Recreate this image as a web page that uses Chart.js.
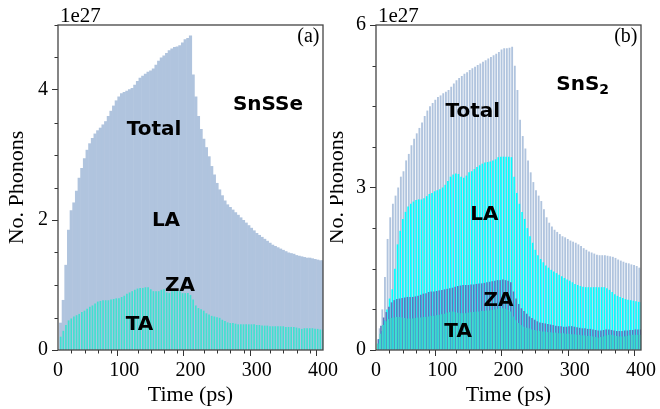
<!DOCTYPE html>
<html>
<head>
<meta charset="utf-8">
<script src="https://cdn.jsdelivr.net/npm/chart.js@4.4.1/dist/chart.umd.min.js"></script>
<style>
html, body { margin: 0; padding: 0; background: #fff; }
#wrap { position: relative; width: 660px; height: 409px; overflow: hidden; }
canvas { position: absolute; top: 0; }
</style>
</head>
<body>
<div id="wrap">
  <canvas id="chart_snsse" width="345" height="409" style="left:0px"></canvas>
  <canvas id="chart_sns2" width="330" height="409" style="left:330px"></canvas>
</div>
<script>
// time steps (ps)
var times = [
  4, 8, 12, 16, 20, 24, 28, 32, 36, 40,
  44, 48, 52, 56, 60, 64, 68, 72, 76, 80,
  84, 88, 92, 96, 100, 104, 108, 112, 116, 120,
  124, 128, 132, 136, 140, 144, 148, 152, 156, 160,
  164, 168, 172, 176, 180, 184, 188, 192, 196, 200,
  204, 208, 212, 216, 220, 224, 228, 232, 236, 240,
  244, 248, 252, 256, 260, 264, 268, 272, 276, 280,
  284, 288, 292, 296, 300, 304, 308, 312, 316, 320,
  324, 328, 332, 336, 340, 344, 348, 352, 356, 360,
  364, 368, 372, 376, 380, 384, 388, 392, 396, 400
];

// (a) SnSSe, units of 1e27
var snsseTotal = [
  0.42, 0.77, 1.31, 1.85, 2.15, 2.27, 2.45, 2.65, 2.80, 2.95,
  3.08, 3.18, 3.26, 3.33, 3.38, 3.42, 3.47, 3.52, 3.60, 3.68,
  3.76, 3.84, 3.90, 3.95, 3.97, 3.99, 4.01, 4.03, 4.08, 4.14,
  4.19, 4.22, 4.25, 4.28, 4.30, 4.33, 4.39, 4.45, 4.50, 4.53,
  4.57, 4.61, 4.64, 4.66, 4.67, 4.69, 4.73, 4.78, 4.80, 4.84,
  4.24, 3.90, 3.60, 3.40, 3.25, 3.12, 2.98, 2.83, 2.70, 2.57,
  2.47, 2.38, 2.30, 2.24, 2.20, 2.16, 2.12, 2.08, 2.04, 2.00,
  1.96, 1.92, 1.88, 1.84, 1.80, 1.77, 1.74, 1.71, 1.68, 1.65,
  1.62, 1.60, 1.58, 1.56, 1.54, 1.52, 1.50, 1.49, 1.48, 1.46,
  1.45, 1.44, 1.43, 1.42, 1.42, 1.41, 1.40, 1.39, 1.38, 1.38
];
var snsseTA = [
  0.20, 0.29, 0.38, 0.45, 0.48, 0.51, 0.53, 0.55, 0.58, 0.60,
  0.63, 0.66, 0.68, 0.71, 0.74, 0.75, 0.76, 0.76, 0.76, 0.77,
  0.78, 0.79, 0.79, 0.81, 0.83, 0.86, 0.88, 0.90, 0.92, 0.94,
  0.95, 0.95, 0.96, 0.96, 0.93, 0.90, 0.90, 0.90, 0.92, 0.93,
  0.88, 0.87, 0.90, 0.92, 0.93, 0.90, 0.87, 0.87, 0.87, 0.84,
  0.77, 0.68, 0.64, 0.62, 0.60, 0.56, 0.54, 0.52, 0.51, 0.50,
  0.49, 0.46, 0.44, 0.42, 0.41, 0.41, 0.40, 0.39, 0.39, 0.39,
  0.39, 0.39, 0.39, 0.39, 0.38, 0.38, 0.37, 0.37, 0.37, 0.36,
  0.36, 0.36, 0.36, 0.36, 0.36, 0.35, 0.35, 0.35, 0.35, 0.34,
  0.33, 0.32, 0.33, 0.33, 0.33, 0.33, 0.32, 0.32, 0.31, 0.31
];

// (b) SnS2, units of 1e27
var sns2Total = [
  0.40, 0.75, 1.35, 2.05, 2.45, 2.70, 2.85, 3.00, 3.20, 3.30,
  3.50, 3.62, 3.78, 3.90, 4.00, 4.10, 4.20, 4.32, 4.42, 4.50,
  4.56, 4.62, 4.67, 4.70, 4.74, 4.77, 4.80, 4.86, 4.92, 4.98,
  5.02, 5.06, 5.10, 5.13, 5.17, 5.20, 5.23, 5.26, 5.29, 5.32,
  5.35, 5.38, 5.41, 5.44, 5.47, 5.50, 5.55, 5.57, 5.57, 5.58,
  5.60, 5.25, 4.80, 4.25, 3.95, 3.72, 3.50, 3.28, 3.10, 2.95,
  2.85, 2.75, 2.60, 2.45, 2.35, 2.28, 2.22, 2.18, 2.14, 2.10,
  2.08, 2.05, 2.02, 2.00, 1.98, 1.95, 1.92, 1.88, 1.85, 1.82,
  1.80, 1.78, 1.76, 1.75, 1.75, 1.75, 1.74, 1.73, 1.72, 1.70,
  1.67, 1.65, 1.63, 1.61, 1.60, 1.58, 1.57, 1.55, 1.52, 1.50
];
var sns2LA = [
  0.20, 0.35, 0.55, 0.75, 0.95, 1.12, 1.50, 1.95, 2.20, 2.42,
  2.55, 2.65, 2.70, 2.74, 2.77, 2.78, 2.78, 2.80, 2.84, 2.88,
  2.90, 2.93, 2.95, 2.97, 3.00, 3.05, 3.12, 3.20, 3.24, 3.26,
  3.25, 3.20, 3.18, 3.22, 3.28, 3.30, 3.34, 3.38, 3.41, 3.44,
  3.46, 3.47, 3.48, 3.50, 3.52, 3.56, 3.57, 3.57, 3.57, 3.57,
  3.56, 3.20, 2.90, 2.70, 2.55, 2.42, 2.25, 2.10, 1.98, 1.85,
  1.75, 1.68, 1.62, 1.56, 1.52, 1.48, 1.45, 1.42, 1.39, 1.36,
  1.33, 1.30, 1.28, 1.25, 1.22, 1.20, 1.18, 1.17, 1.16, 1.16,
  1.16, 1.16, 1.16, 1.16, 1.16, 1.16, 1.14, 1.11, 1.07, 1.03,
  1.00, 0.98, 0.96, 0.94, 0.93, 0.92, 0.91, 0.90, 0.89, 0.88
];
var sns2ZA = [
  0.20, 0.45, 0.60, 0.70, 0.80, 0.88, 0.92, 0.94, 0.95, 0.96,
  0.97, 0.98, 0.98, 0.98, 0.99, 1.00, 1.02, 1.04, 1.05, 1.07,
  1.08, 1.08, 1.09, 1.10, 1.11, 1.12, 1.13, 1.14, 1.15, 1.17,
  1.18, 1.19, 1.20, 1.20, 1.20, 1.21, 1.21, 1.22, 1.23, 1.23,
  1.24, 1.25, 1.26, 1.27, 1.28, 1.29, 1.29, 1.30, 1.29, 1.28,
  1.25, 1.08, 0.95, 0.85, 0.77, 0.72, 0.67, 0.62, 0.59, 0.56,
  0.53, 0.51, 0.50, 0.49, 0.48, 0.47, 0.46, 0.45, 0.44, 0.44,
  0.43, 0.43, 0.44, 0.44, 0.43, 0.42, 0.41, 0.40, 0.40, 0.39,
  0.39, 0.38, 0.37, 0.36, 0.36, 0.37, 0.38, 0.38, 0.37, 0.36,
  0.35, 0.35, 0.35, 0.36, 0.36, 0.37, 0.37, 0.38, 0.38, 0.38
];
var sns2TA = [
  0.12, 0.30, 0.46, 0.53, 0.57, 0.59, 0.60, 0.61, 0.61, 0.60,
  0.59, 0.58, 0.58, 0.58, 0.59, 0.60, 0.60, 0.61, 0.61, 0.62,
  0.63, 0.63, 0.64, 0.65, 0.66, 0.67, 0.69, 0.70, 0.71, 0.70,
  0.69, 0.68, 0.68, 0.68, 0.69, 0.70, 0.70, 0.71, 0.71, 0.72,
  0.72, 0.73, 0.73, 0.74, 0.75, 0.76, 0.77, 0.77, 0.76, 0.74,
  0.71, 0.62, 0.55, 0.50, 0.46, 0.43, 0.41, 0.40, 0.38, 0.37,
  0.36, 0.35, 0.34, 0.34, 0.33, 0.33, 0.32, 0.32, 0.31, 0.31,
  0.31, 0.30, 0.30, 0.29, 0.29, 0.28, 0.28, 0.27, 0.27, 0.26,
  0.26, 0.25, 0.24, 0.23, 0.24, 0.25, 0.27, 0.28, 0.28, 0.27,
  0.26, 0.25, 0.25, 0.25, 0.26, 0.27, 0.28, 0.28, 0.28, 0.28
];

var xMajorTicks = [0, 100, 200, 300, 400];
var yMajorTicksA = [0, 2, 4];
var yMajorTicksB = [0, 3, 6];

function isMajor(v, list) {
  return list.some(function (m) { return Math.abs(m - v) < 1e-6; });
}

function points(values) {
  return values.map(function (v, i) { return { x: times[i], y: v }; });
}

var serif = 'Liberation Serif';

function tickColorFor(list) {
  return function (c) {
    if (!c || !c.tick) return '#333';
    return isMajor(c.tick.value, list) ? '#333' : 'rgba(0,0,0,0)';
  };
}

function axes(yMax, yStep, yMajor, yWidth, titleLH, titlePad) {
  return {
    x: {
      type: 'linear', min: 0, max: 400, offset: false,
      afterFit: function (s) { s.height = 59; s.paddingLeft = 0; s.paddingRight = 0; },
      border: { display: false },
      grid: {
        drawOnChartArea: false, drawTicks: true, tickLength: 6, tickWidth: 1,
        tickColor: tickColorFor(xMajorTicks)
      },
      ticks: {
        stepSize: 20, autoSkip: false, maxRotation: 0, padding: 3, color: '#000',
        font: { family: serif, size: 20 },
        callback: function (v) { return isMajor(v, xMajorTicks) ? String(v) : ''; }
      },
      title: { display: true, text: 'Time (ps)', color: '#000', font: { family: serif, size: 22 }, padding: { top: 0, bottom: 1 } }
    },
    y: {
      type: 'linear', min: 0, max: yMax,
      afterFit: function (s) { s.width = yWidth; s.paddingTop = 0; s.paddingBottom = 0; },
      border: { display: false },
      grid: {
        drawOnChartArea: false, drawTicks: true, tickLength: 6, tickWidth: 1,
        tickColor: tickColorFor(yMajor)
      },
      ticks: {
        stepSize: yStep, autoSkip: false, padding: 4, color: '#000',
        font: { family: serif, size: 20 },
        callback: function (v) { return isMajor(v, yMajor) ? String(Math.round(v)) : ''; }
      },
      title: { display: true, text: 'No. Phonons', color: '#000', font: { family: serif, size: 22, lineHeight: titleLH }, padding: { top: titlePad, bottom: 0 } }
    }
  };
}

function panelPlugin(id, notes) {
  return {
    id: id,
    afterDatasetsDraw: function (chart) {
      var ctx = chart.ctx, a = chart.chartArea, sx = chart.scales.x, sy = chart.scales.y;
      ctx.save();
      // minor ticks
      ctx.strokeStyle = '#333';
      ctx.lineWidth = 1;
      sx.ticks.forEach(function (t) {
        if (isMajor(t.value, xMajorTicks)) return;
        var px = Math.round(sx.getPixelForValue(t.value)) + 0.5;
        ctx.beginPath(); ctx.moveTo(px, a.bottom); ctx.lineTo(px, a.bottom + 3.5); ctx.stroke();
      });
      sy.ticks.forEach(function (t) {
        if (isMajor(t.value, notes.yMajor)) return;
        var py = Math.round(sy.getPixelForValue(t.value)) + 0.5;
        ctx.beginPath(); ctx.moveTo(a.left, py); ctx.lineTo(a.left - 3.5, py); ctx.stroke();
      });
      // frame
      ctx.strokeStyle = '#444';
      ctx.lineWidth = 1.3;
      ctx.strokeRect(a.left, a.top, a.right - a.left, a.bottom - a.top);
      // offset text and panel tag
      ctx.fillStyle = '#000';
      ctx.textBaseline = 'alphabetic';
      ctx.textAlign = 'left';
      ctx.font = '21px "' + serif + '"';
      ctx.fillText('1e27', a.left + 2, a.top - 3);
      ctx.textAlign = 'right';
      ctx.font = '20px "' + serif + '"';
      ctx.fillText(notes.tag, a.right - 3.5, a.top + 17);
      // labels
      notes.labels.forEach(function (n) {
        var cx = sx.getPixelForValue(n.x), cy = sy.getPixelForValue(n.y) + 7.3;
        ctx.font = 'bold 20px "DejaVu Sans"';
        if (n.sub) {
          var w1 = ctx.measureText(n.text).width;
          ctx.font = 'bold 14px "DejaVu Sans"';
          var w2 = ctx.measureText(n.sub).width;
          var x0 = cx - (w1 + w2) / 2;
          ctx.textAlign = 'left';
          ctx.font = 'bold 20px "DejaVu Sans"';
          ctx.fillText(n.text, x0, cy);
          ctx.font = 'bold 14px "DejaVu Sans"';
          ctx.fillText(n.sub, x0 + w1, cy + 4);
        } else {
          ctx.textAlign = 'center';
          ctx.fillText(n.text, cx, cy);
        }
      });
      ctx.restore();
    }
  };
}

var chart_snsse = new Chart(document.getElementById('chart_snsse'), {
  type: 'bar',
  data: {
    datasets: [
      { label: 'TA', data: points(snsseTA), backgroundColor: '#40e0d0', grouped: false, barThickness: 1, order: 1 },
      { label: 'Total', data: points(snsseTotal), backgroundColor: '#b0c4de', grouped: false, barPercentage: 1.2, categoryPercentage: 1, order: 2 }
    ]
  },
  options: {
    animation: false,
    responsive: false,
    layout: { padding: { top: 25, right: 22, left: 0, bottom: 0 } },
    plugins: { legend: { display: false }, tooltip: { enabled: false } },
    scales: axes(5, 0.5, yMajorTicksA, 58, 1.2, 4)
  },
  plugins: [panelPlugin('panelA', {
    tag: '(a)', yMajor: yMajorTicksA,
    labels: [
      { text: 'SnSSe', x: 317, y: 3.81 },
      { text: 'Total', x: 145, y: 3.42 },
      { text: 'LA', x: 163, y: 2.02 },
      { text: 'ZA', x: 184, y: 1.02 },
      { text: 'TA', x: 123, y: 0.42 }
    ]
  })]
});

var chart_sns2 = new Chart(document.getElementById('chart_sns2'), {
  type: 'bar',
  data: {
    datasets: [
      { label: 'Total', data: points(sns2Total), backgroundColor: '#b0c4de', barPercentage: 2.8, categoryPercentage: 1, order: 4 },
      { label: 'LA', data: points(sns2LA), backgroundColor: '#00ffff', barPercentage: 2.4, categoryPercentage: 1, order: 3 },
      { label: 'ZA', data: points(sns2ZA), backgroundColor: '#5a78bf', barPercentage: 2.4, categoryPercentage: 1, order: 2 },
      { label: 'TA', data: points(sns2TA), backgroundColor: '#40d8c8', barPercentage: 2.4, categoryPercentage: 1, order: 1 }
    ]
  },
  options: {
    animation: false,
    responsive: false,
    layout: { padding: { top: 25, right: 19, left: 0, bottom: 0 } },
    plugins: { legend: { display: false }, tooltip: { enabled: false } },
    scales: axes(6, 0.75, yMajorTicksB, 46, 0.7, 0)
  },
  plugins: [panelPlugin('panelB', {
    tag: '(b)', yMajor: yMajorTicksB,
    labels: [
      { text: 'SnS', sub: '2', x: 312, y: 4.94 },
      { text: 'Total', x: 146, y: 4.44 },
      { text: 'LA', x: 163.5, y: 2.54 },
      { text: 'ZA', x: 185, y: 0.94 },
      { text: 'TA', x: 124, y: 0.37 }
    ]
  })]
});
</script>
</body>
</html>
